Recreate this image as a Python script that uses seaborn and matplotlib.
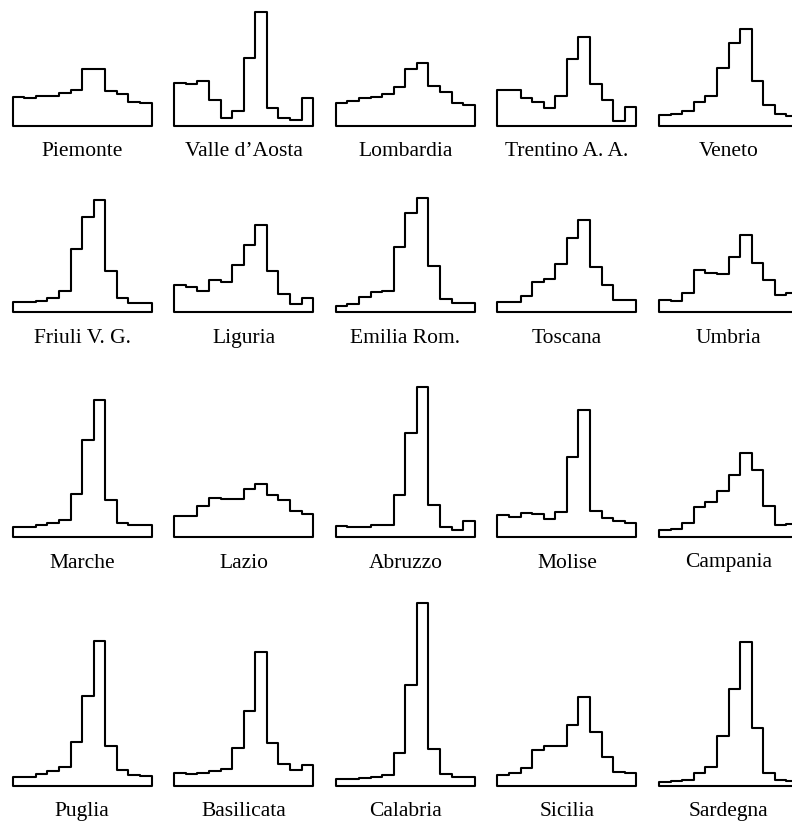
import numpy as np
import pandas as pd
import matplotlib
matplotlib.use("Agg")
import matplotlib.pyplot as plt
import seaborn as sns

# Class index of each histogram bar (12 classes)
classes = list(range(1, 13))

# Relative frequencies per class, one list per region
piemonte = [28.7, 28.0, 30.0, 30.0, 33.0, 35.7, 56.7, 56.7, 34.3, 31.3, 23.3, 22.3]
valle_aosta = [42.3, 41.7, 44.3, 25.7, 8.0, 14.7, 68.0, 113.3, 18.0, 7.3, 5.7, 27.3]
lombardia = [23.0, 24.5, 28.0, 29.0, 31.5, 38.5, 56.5, 63.0, 40.0, 34.0, 22.5, 21.0]
trentino = [35.7, 35.7, 28.0, 23.3, 18.0, 29.7, 67.0, 89.0, 41.7, 25.7, 5.0, 18.3]
veneto = [10.3, 11.7, 14.7, 23.3, 29.3, 57.7, 83.0, 96.7, 45.0, 20.3, 11.3, 9.7]

friuli = [10.0, 10.0, 11.0, 14.3, 21.3, 63.0, 95.0, 112.3, 41.7, 14.0, 9.7, 9.7]
liguria = [26.7, 24.7, 21.3, 31.7, 30.7, 46.7, 67.3, 87.3, 41.0, 18.3, 8.0, 14.0]
emilia = [6.3, 8.0, 14.7, 19.7, 21.0, 64.7, 98.7, 114.7, 46.0, 13.7, 9.7, 9.0]
toscana = [10.0, 10.0, 15.7, 30.0, 32.7, 48.3, 74.3, 92.3, 45.7, 27.3, 12.7, 12.3]
umbria = [11.7, 11.0, 19.0, 41.7, 38.7, 38.3, 55.0, 76.7, 49.0, 32.3, 17.3, 19.3]

marche = [9.7, 10.3, 11.7, 14.0, 17.3, 43.3, 97.3, 136.7, 36.7, 14.0, 11.7, 11.7]
lazio = [20.7, 20.7, 30.7, 39.3, 38.3, 38.3, 48.3, 52.7, 42.0, 36.7, 25.7, 23.0]
abruzzo = [11.3, 9.7, 10.3, 11.7, 12.0, 42.0, 103.7, 150.3, 32.0, 10.3, 7.0, 16.3]
molise = [21.7, 20.0, 24.0, 23.3, 18.3, 25.0, 80.0, 126.7, 26.0, 19.3, 16.0, 14.0]
campania = [7.3, 7.7, 14.3, 30.0, 35.0, 45.7, 61.7, 84.0, 67.3, 31.0, 12.3, 12.7]

puglia = [8.7, 8.7, 12.0, 15.0, 18.3, 43.3, 90.0, 144.3, 40.0, 15.3, 10.3, 10.0]
basilicata = [12.7, 11.7, 13.0, 14.7, 16.7, 37.3, 75.0, 134.0, 42.3, 21.3, 15.7, 20.7]
calabria = [6.7, 7.0, 7.7, 9.0, 10.7, 32.3, 100.7, 182.7, 36.3, 11.7, 8.3, 8.3]
sicilia = [11.0, 12.3, 17.7, 36.0, 40.0, 40.0, 60.7, 89.0, 53.3, 28.3, 13.3, 12.3]
sardegna = [4.0, 4.7, 5.7, 12.3, 18.3, 50.0, 96.3, 143.3, 57.3, 13.0, 5.7, 4.7]

region_names = [
    "Piemonte", "Valle d\u2019Aosta", "Lombardia", "Trentino A. A.", "Veneto",
    "Friuli V. G.", "Liguria", "Emilia Rom.", "Toscana", "Umbria",
    "Marche", "Lazio", "Abruzzo", "Molise", "Campania",
    "Puglia", "Basilicata", "Calabria", "Sicilia", "Sardegna",
]
region_values = [
    piemonte, valle_aosta, lombardia, trentino, veneto,
    friuli, liguria, emilia, toscana, umbria,
    marche, lazio, abruzzo, molise, campania,
    puglia, basilicata, calabria, sicilia, sardegna,
]

sns.set_theme(style="white")
plt.rcParams["font.family"] = ["Liberation Serif", "DejaVu Serif"]

W, H = 792, 823
fig = plt.figure(figsize=(W / 100, H / 100), dpi=100)
fig.patch.set_facecolor("white")

edges = [k + 0.5 for k in range(0, 13)]
col_left = [12.6, 174.2, 335.8, 497.4, 659.0]   # left edge of each column (px)
row_base = [125.6, 312.2, 537.0, 785.6]          # baseline of each row (px)
panel_w = 139.0                                  # width of 12 classes (px)
px_per_class = panel_w / 12
pad = 3.0                                        # room so outlines are not clipped
panel_h = 190.0                                  # vertical extent, 1 unit = 1 px

for i, (name, vals) in enumerate(zip(region_names, region_values)):
    r, c = divmod(i, 5)
    left = col_left[c] - pad
    bottom = H - row_base[r] - pad
    ax = fig.add_axes([left / W, bottom / H, (panel_w + 2 * pad) / W, panel_h / H])
    df = pd.DataFrame({"classe": classes, "freq": vals})
    sns.histplot(
        data=df, x="classe", weights="freq", bins=edges,
        element="step", fill=True, color="white", alpha=1,
        edgecolor="black", linewidth=1.5, ax=ax,
    )
    ax.set_xlim(0.5 - pad / px_per_class, 12.5 + pad / px_per_class)
    ax.set_ylim(-pad, panel_h - pad)
    ax.set_axis_off()
    fig.text(
        (col_left[c] + panel_w / 2) / W, (H - row_base[r] - 30.5) / H, name,
        ha="center", va="baseline", fontsize=15.5, color="black",
    )

fig.savefig("out.png", dpi=100, facecolor="white")
